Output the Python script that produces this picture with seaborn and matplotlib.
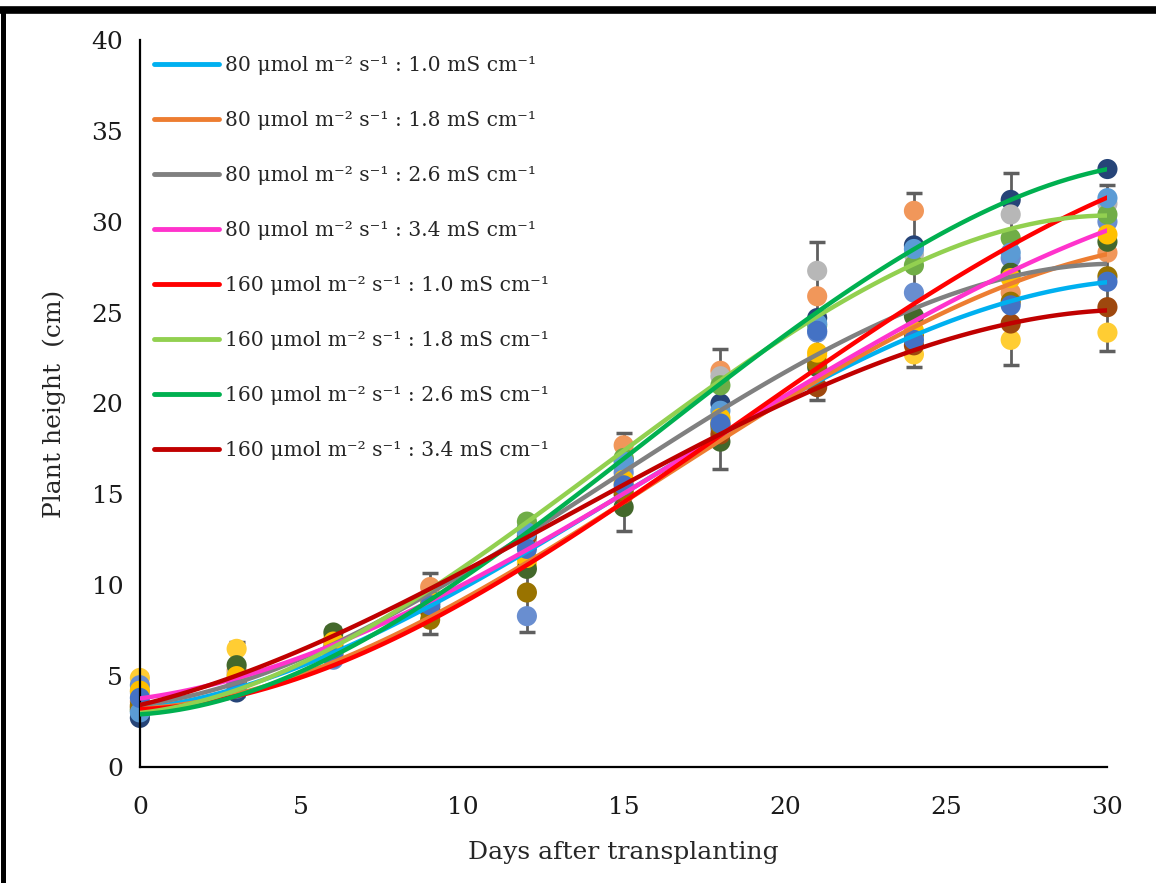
import numpy as np
import pandas as pd
import matplotlib
matplotlib.use("Agg")
import matplotlib.pyplot as plt
from matplotlib.lines import Line2D
import seaborn as sns

# Days after transplanting
days = [0, 3, 6, 9, 12, 15, 18, 21, 24, 27, 30]

# Trend line values per treatment
treatments = [
    "80 \u03bcmol m\u207b\u00b2 s\u207b\u00b9 : 1.0 mS cm\u207b\u00b9",
    "80 \u03bcmol m\u207b\u00b2 s\u207b\u00b9 : 1.8 mS cm\u207b\u00b9",
    "80 \u03bcmol m\u207b\u00b2 s\u207b\u00b9 : 2.6 mS cm\u207b\u00b9",
    "80 \u03bcmol m\u207b\u00b2 s\u207b\u00b9 : 3.4 mS cm\u207b\u00b9",
    "160 \u03bcmol m\u207b\u00b2 s\u207b\u00b9 : 1.0 mS cm\u207b\u00b9",
    "160 \u03bcmol m\u207b\u00b2 s\u207b\u00b9 : 1.8 mS cm\u207b\u00b9",
    "160 \u03bcmol m\u207b\u00b2 s\u207b\u00b9 : 2.6 mS cm\u207b\u00b9",
    "160 \u03bcmol m\u207b\u00b2 s\u207b\u00b9 : 3.4 mS cm\u207b\u00b9",
]
line_colors = ["#00B0F0", "#ED7D31", "#808080", "#FF33CC",
               "#FF0000", "#92D050", "#00B050", "#C00000"]

fit_80_10 = [3.1, 4.5, 6.35, 8.8, 11.7, 15.0, 18.4, 21.1, 23.9, 25.5, 26.7]
fit_80_18 = [3.0, 4.4, 5.8, 8.2, 10.9, 14.7, 18.0, 21.2, 24.4, 26.5, 28.2]
fit_80_26 = [3.3, 4.8, 6.9, 9.3, 12.8, 16.2, 19.8, 22.6, 25.3, 26.9, 27.7]
fit_80_34 = [3.7, 4.9, 7.0, 8.95, 11.8, 15.1, 18.4, 21.2, 24.8, 27.2, 29.5]
fit_160_10 = [3.1, 4.1, 5.5, 8.0, 11.0, 14.8, 18.3, 21.6, 25.7, 28.7, 31.3]
fit_160_18 = [2.9, 4.4, 6.7, 9.4, 13.4, 17.6, 21.5, 24.7, 27.5, 29.6, 30.4]
fit_160_26 = [2.8, 4.1, 6.07, 9.1, 13.0, 16.8, 21.2, 24.9, 28.7, 31.1, 32.9]
fit_160_34 = [3.4, 5.06, 7.28, 9.6, 12.7, 15.5, 18.5, 20.8, 22.9, 24.3, 25.2]
fits = [fit_80_10, fit_80_18, fit_80_26, fit_80_34,
        fit_160_10, fit_160_18, fit_160_26, fit_160_34]

# Observed points
obs_colors = ["#264478", "#F1975A", "#B7B7B7", "#FFCD33", "#698ED0", "#70AD47",
              "#43682B", "#9E480E", "#997300", "#5B9BD5", "#FFC000", "#4472C4"]
obs1 = [2.7, 4.1, 6.6, 9.0, 13.1, 16.9, 20.0, 24.7, 28.7, 31.2, 32.9]
obs2 = [3.6, 5.3, 6.8, 9.9, 12.4, 17.7, 21.8, 25.9, 30.6, 26.1, 28.3]
obs3 = [4.1, 5.1, 6.7, 9.3, 12.6, 16.5, 21.5, 27.3, 28.2, 30.4, 31.0]
obs4 = [4.9, 6.5, 7.1, 8.5, 11.2, 15.6, 19.0, 22.6, 22.7, 23.5, 23.9]
obs5 = [4.5, 4.7, 5.9, 8.8, 8.3, 16.2, 18.6, 23.9, 26.1, 28.0, 30.0]
obs6 = [3.2, 4.6, 6.5, 9.2, 13.5, 17.0, 21.0, 24.3, 27.6, 29.1, 30.4]
obs7 = [3.1, 5.6, 7.4, 8.8, 10.9, 14.3, 17.9, 22.0, 24.8, 27.2, 28.9]
obs8 = [3.3, 4.5, 6.2, 8.6, 12.7, 15.0, 18.3, 20.9, 23.2, 24.4, 25.3]
obs9 = [3.4, 4.8, 6.5, 8.1, 9.6, 15.2, 18.8, 22.2, 23.8, 25.6, 27.0]
obs10 = [3.0, 4.4, 6.3, 9.0, 12.9, 16.8, 19.6, 24.4, 28.5, 28.3, 31.3]
obs11 = [4.2, 5.0, 6.9, 9.1, 11.5, 15.8, 19.2, 22.8, 24.0, 26.9, 29.3]
obs12 = [3.8, 4.3, 6.0, 8.9, 12.0, 15.5, 18.9, 24.0, 23.5, 25.4, 26.7]
observed = [obs1, obs2, obs3, obs4, obs5, obs6,
            obs7, obs8, obs9, obs10, obs11, obs12]

# Error bar extents (top / bottom cap)
bar_top = [5.1, 6.9, 7.7, 10.7, 13.8, 18.4, 23.0, 28.9, 31.6, 32.7, 32.0]
bar_bottom = [2.6, 3.9, 5.7, 7.3, 7.4, 13.0, 16.4, 20.2, 22.0, 22.1, 22.9]

sns.set_style("white")
plt.rcParams['font.family'] = ['DejaVu Serif']

fig = plt.figure(figsize=(11.56, 8.83), dpi=100)
ax = fig.add_axes([0.121, 0.1314, 0.837, 0.8233])

# error bars
mid = (np.array(bar_top) + np.array(bar_bottom)) / 2
half = (np.array(bar_top) - np.array(bar_bottom)) / 2
ax.errorbar(days, mid, yerr=half, fmt='none', ecolor='#5F5F5F',
            elinewidth=2, capsize=6, capthick=2.5, zorder=1, clip_on=False)

# scatter points
df = pd.DataFrame({
    "day": np.tile(days, len(observed)),
    "height": np.concatenate(observed),
    "series": np.repeat([f"s{i}" for i in range(len(observed))], len(days)),
})
sns.scatterplot(data=df, x="day", y="height", hue="series",
                palette=obs_colors, s=210, edgecolor="none", linewidth=0,
                legend=False, ax=ax, zorder=2, clip_on=False)

# polynomial trend lines
for name, vals, col in zip(treatments, fits, line_colors):
    sns.regplot(x=np.array(days), y=np.array(vals), order=3, ci=None,
                scatter=False, truncate=True, ax=ax, label=name,
                line_kws=dict(color=col, lw=3.2, zorder=3))

ax.set_xlim(0, 30)
ax.set_ylim(0, 40)
ax.set_xticks(range(0, 31, 5))
ax.set_yticks(range(0, 41, 5))
ax.tick_params(length=0, labelsize=18, colors='#1a1a1a')
ax.tick_params(axis='x', pad=21)
ax.tick_params(axis='y', pad=12)
for s in ["top", "right"]:
    ax.spines[s].set_visible(False)
for s in ["left", "bottom"]:
    ax.spines[s].set_color("black")
    ax.spines[s].set_linewidth(1.6)

ax.set_xlabel("Days after transplanting", fontsize=18, labelpad=16)
ax.set_ylabel("Plant height  (cm)", fontsize=18, labelpad=18)

leg = ax.legend(loc="upper left", bbox_to_anchor=(0.0, 0.998), frameon=False,
                fontsize=14.6, handlelength=3.2, handletextpad=0.3,
                labelspacing=1.78, borderaxespad=0.3)
for h in leg.get_lines():
    h.set_linewidth(3.5)

# outer frame of the figure (top and left visible)
fig.add_artist(Line2D([0, 1], [0.9892, 0.9892], color="black", lw=5.5,
                      transform=fig.transFigure))
fig.add_artist(Line2D([0.0022, 0.0022], [0, 0.9892], color="black", lw=3.6,
                      transform=fig.transFigure))

fig.savefig("out.png", dpi=100)
